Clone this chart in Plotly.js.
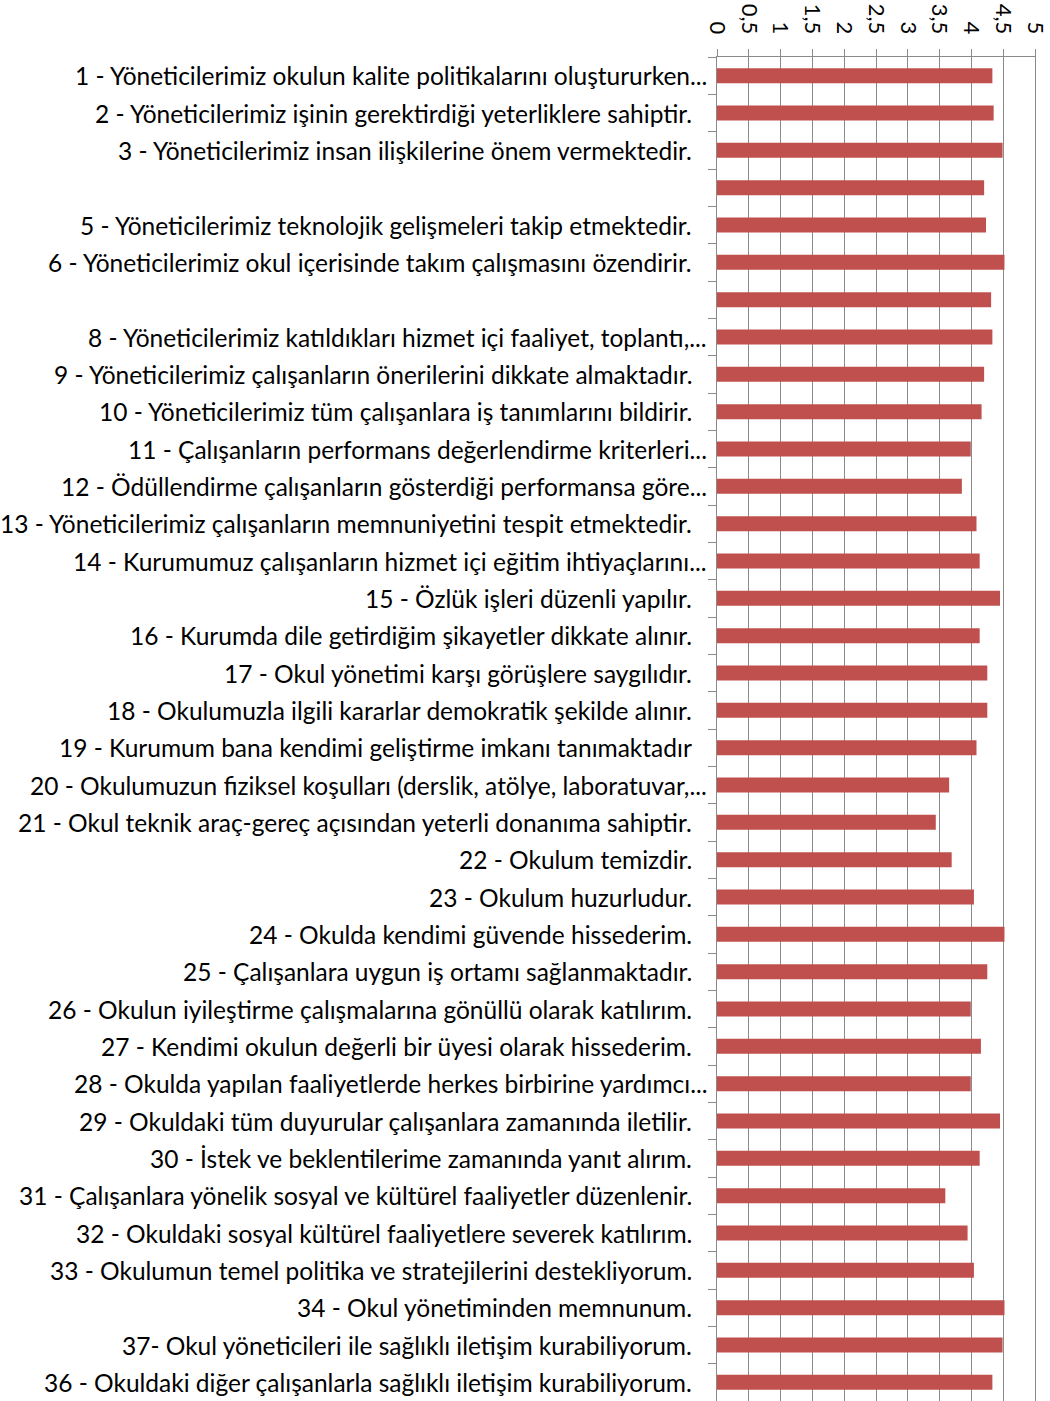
<!DOCTYPE html>
<html>
<head>
<meta charset="utf-8">
<script src="https://cdn.plot.ly/plotly-3.0.1.min.js"></script>
<style>
  html, body { margin: 0; padding: 0; background: #ffffff; }
  #chart { width: 1050px; height: 1401px; }
</style>
</head>
<body>
<div id="chart"></div>
<script>
// ---- data ----
const itemIds = ["Q1","Q2","Q3","Q4","Q5","Q6","Q7","Q8","Q9","Q10","Q11","Q12","Q13","Q14","Q15","Q16","Q17","Q18","Q19","Q20",
  "Q21","Q22","Q23","Q24","Q25","Q26","Q27","Q28","Q29","Q30","Q31","Q32","Q33","Q34","Q37","Q36"];

const itemLabels = [
  "1 - Yöneticilerimiz okulun kalite politikalarını oluştururken...",
  "2 - Yöneticilerimiz işinin gerektirdiği yeterliklere sahiptir.",
  "3 - Yöneticilerimiz insan ilişkilerine önem vermektedir.",
  "",
  "5 - Yöneticilerimiz teknolojik gelişmeleri takip etmektedir.",
  "6 - Yöneticilerimiz okul içerisinde takım çalışmasını özendirir.",
  "",
  "8 - Yöneticilerimiz katıldıkları hizmet içi faaliyet, toplantı,...",
  "9 - Yöneticilerimiz çalışanların önerilerini dikkate almaktadır.",
  "10 - Yöneticilerimiz tüm çalışanlara iş tanımlarını bildirir.",
  "11 - Çalışanların performans değerlendirme kriterleri...",
  "12 - Ödüllendirme çalışanların gösterdiği performansa göre...",
  "13 - Yöneticilerimiz çalışanların memnuniyetini tespit etmektedir.",
  "14 - Kurumumuz çalışanların hizmet içi eğitim ihtiyaçlarını...",
  "15 - Özlük işleri düzenli yapılır.",
  "16 - Kurumda dile getirdiğim şikayetler dikkate alınır.",
  "17 - Okul yönetimi karşı görüşlere saygılıdır.",
  "18 - Okulumuzla ilgili kararlar demokratik şekilde alınır.",
  "19 - Kurumum bana kendimi geliştirme imkanı tanımaktadır",
  "20 - Okulumuzun fiziksel koşulları (derslik, atölye, laboratuvar,...",
  "21 - Okul teknik araç-gereç açısından yeterli donanıma sahiptir.",
  "22 - Okulum temizdir.",
  "23 - Okulum huzurludur.",
  "24 - Okulda kendimi güvende hissederim.",
  "25 - Çalışanlara uygun iş ortamı sağlanmaktadır.",
  "26 - Okulun iyileştirme çalışmalarına gönüllü olarak katılırım.",
  "27 - Kendimi okulun değerli bir üyesi olarak hissederim.",
  "28 - Okulda yapılan faaliyetlerde herkes birbirine yardımcı...",
  "29 - Okuldaki tüm duyurular çalışanlara zamanında iletilir.",
  "30 - İstek ve beklentilerime zamanında yanıt alırım.",
  "31 - Çalışanlara yönelik sosyal ve kültürel faaliyetler düzenlenir.",
  "32 - Okuldaki sosyal kültürel faaliyetlere severek katılırım.",
  "33 - Okulumun temel politika ve stratejilerini destekliyorum.",
  "34 - Okul yönetiminden memnunum.",
  "37- Okul yöneticileri ile sağlıklı iletişim kurabiliyorum.",
  "36 - Okuldaki diğer çalışanlarla sağlıklı iletişim kurabiliyorum."
];

const meanScores = [
  4.33, 4.35, 4.49, 4.20, 4.23, 4.52, 4.31, 4.33, 4.20, 4.16,
  3.99, 3.85, 4.08, 4.13, 4.45, 4.13, 4.25, 4.25, 4.08, 3.65,
  3.44, 3.69, 4.04, 4.52, 4.25, 3.99, 4.15, 3.99, 4.45, 4.13,
  3.59, 3.94, 4.04, 4.52, 4.49, 4.33
];

const xTickVals = [0, 0.5, 1, 1.5, 2, 2.5, 3, 3.5, 4, 4.5, 5];
const xTickText = ["0", "0,5", "1", "1,5", "2", "2,5", "3", "3,5", "4", "4,5", "5"];

// ---- styles ----
const FONT = "Lato, 'Open Sans', sans-serif";
const GRID = "#8a8a8a";
const BAR = "#C0504D";

const trace = {
  type: "bar",
  orientation: "h",
  x: meanScores,
  y: itemIds,
  marker: { color: BAR, line: { width: 0 } },
  hoverinfo: "skip"
};

const annotations = [];
itemLabels.forEach((t, i) => {
  if (t === "") return;
  annotations.push({
    text: t,
    xref: "paper",
    yref: "y",
    x: 0,
    y: i,
    xanchor: "right",
    yanchor: "middle",
    xshift: t.endsWith("...") ? -8 : -23,
    showarrow: false,
    font: { family: FONT, size: 24.5, color: "#000000" }
  });
});

const layout = {
  width: 1050,
  height: 1401,
  margin: { l: 717, r: 15, t: 57, b: 0, pad: 0 },
  paper_bgcolor: "#ffffff",
  plot_bgcolor: "#ffffff",
  showlegend: false,
  bargap: 0.6,
  xaxis: {
    side: "top",
    range: [0, 5],
    tickvals: xTickVals,
    ticktext: xTickText,
    tickangle: 90,
    ticks: "outside",
    ticklen: 7,
    tickcolor: GRID,
    tickwidth: 1,
    ticklabelstandoff: 7,
    showgrid: true,
    gridcolor: GRID,
    gridwidth: 1,
    showline: true,
    linecolor: GRID,
    linewidth: 1,
    zeroline: false,
    fixedrange: true,
    tickfont: { family: FONT, size: 22, color: "#000000" }
  },
  yaxis: {
    type: "category",
    categoryorder: "array",
    categoryarray: itemIds,
    autorange: "reversed",
    showticklabels: false,
    ticks: "outside",
    tickson: "boundaries",
    ticklen: 8,
    tickcolor: GRID,
    showgrid: false,
    showline: true,
    linecolor: GRID,
    linewidth: 1,
    mirror: true,
    zeroline: false,
    fixedrange: true
  },
  annotations: annotations
};

Plotly.newPlot("chart", [trace], layout, { displayModeBar: false, staticPlot: true });
</script>
</body>
</html>
